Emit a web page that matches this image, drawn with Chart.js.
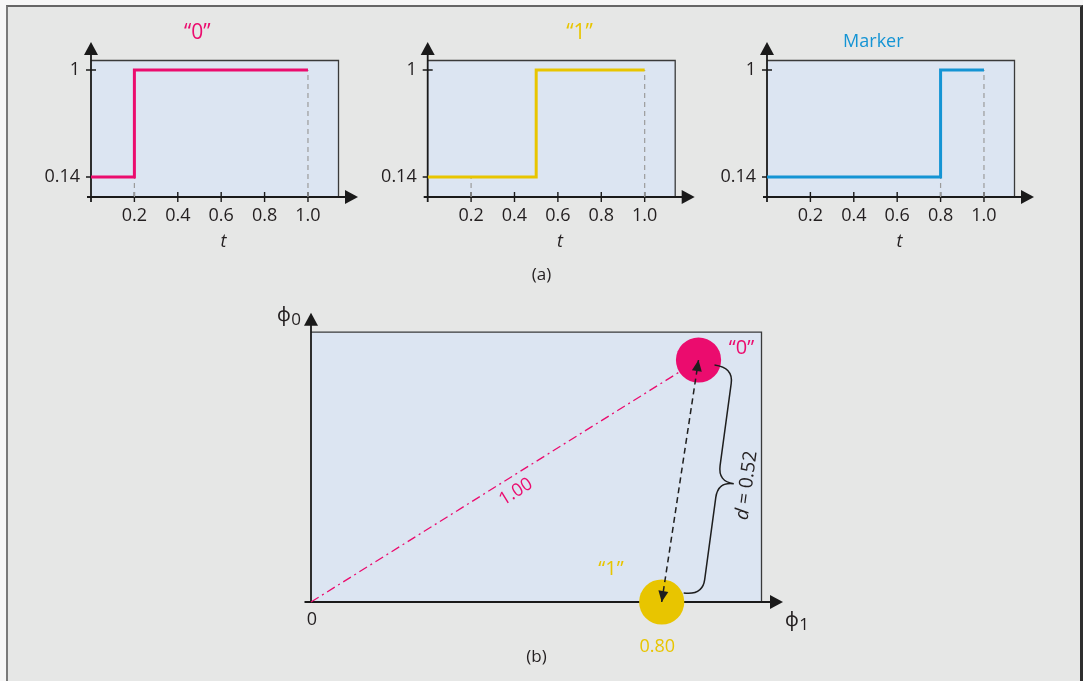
<!DOCTYPE html>
<html>
<head>
<meta charset="utf-8">
<title>Signal waveforms and signal space</title>
<script src="https://cdn.jsdelivr.net/npm/chart.js@4.4.1/dist/chart.umd.min.js"></script>
<style>
  html, body { margin: 0; padding: 0; background: #f7f7f7; }
  #page { position: relative; width: 1083px; height: 681px; overflow: hidden; }
  #frame { position: absolute; left: 6px; top: 5px; width: 1072px; height: 700px;
           background: #e6e7e6; border-top: 2px solid #666; border-left: 2px solid #7a7a7a; border-right: 3px solid #2e2e2e; }
  canvas { position: absolute; left: 0; top: 0; }
</style>
</head>
<body>
<div id="page">
  <div id="frame"></div>
  <canvas id="sig0" width="1083" height="681"></canvas>
  <canvas id="sig1" width="1083" height="681"></canvas>
  <canvas id="sig2" width="1083" height="681"></canvas>
  <canvas id="space" width="1083" height="681"></canvas>
</div>
<script>
// ---- data ----
const signalNames = ['“0”', '“1”', 'Marker'];
const signalColors = ['#eb0c6e', '#e8c500', '#1494d4'];
const stepTimes = [0.2, 0.5, 0.8];
const lowLevel = 0.14;
const highLevel = 1;
const endTime = 1.0;
const timeTicks = [0.2, 0.4, 0.6, 0.8, 1.0];
const levelTicks = [0.14, 1];
const guideTimes = [[0.2, 1.0], [0.2, 1.0], [0.8, 1.0]];

const pointNames = ['“0”', '“1”'];
const pointPhi1 = [0.884, 0.80];
const pointPhi0 = [0.552, 0];
const originLabel = '0';
const phi1Label = '0.80';
const normLabel = '1.00';
const distanceValue = '0.52';

// ---- layout / style ----
const W = 1083, H = 681;
const INK = '#231f20';
const AXIS = '#1a1a1a';
const PLOT_BG = '#dce5f2';
const FONT = '"Open Sans", "Noto Sans", sans-serif';
const topBoxLefts = [91, 427.7, 767];
const topBox = { width: 248, top: 60, bottom: 197 };
const titleAt = [0.49, 0.70, 0.49];
const titleY = [33, 33, 42];
const Y_AXIS_W = 60, X_AXIS_H = 50;
const bottomBox = { left: 311, top: 331.7, right: 762, bottom: 602 };

function arrowHead(ctx, x, y, angle, len, half) {
    ctx.save();
    ctx.translate(x, y);
    ctx.rotate(angle);
    ctx.beginPath();
    ctx.moveTo(0, 0);
    ctx.lineTo(-len, -half);
    ctx.lineTo(-len, half);
    ctx.closePath();
    ctx.fill();
    ctx.restore();
}

function plotBox() {
    return {
        id: 'plotBox',
        beforeDatasetsDraw(chart) {
            const {ctx, chartArea: a} = chart;
            ctx.save();
            ctx.fillStyle = PLOT_BG;
            ctx.fillRect(a.left, a.top, a.right - a.left, a.bottom - a.top);
            ctx.strokeStyle = '#3a3a3a';
            ctx.lineWidth = 1.3;
            ctx.beginPath();
            ctx.moveTo(a.left, a.top + 0.5);
            ctx.lineTo(a.right - 0.5, a.top + 0.5);
            ctx.lineTo(a.right - 0.5, a.bottom);
            ctx.stroke();
            ctx.restore();
        }
    };
}

function axesWithArrows(o) {
    return {
        id: 'axesWithArrows',
        beforeDatasetsDraw(chart) {
            const {ctx, chartArea: a} = chart;
            ctx.save();
            ctx.strokeStyle = AXIS;
            ctx.fillStyle = AXIS;
            ctx.lineWidth = 1.8;
            ctx.beginPath();
            ctx.moveTo(a.left - o.overX, a.bottom);
            ctx.lineTo(a.right + o.tipX - 6, a.bottom);
            ctx.moveTo(a.left, a.bottom + o.overY);
            ctx.lineTo(a.left, a.top - o.tipY + 6);
            ctx.stroke();
            arrowHead(ctx, a.right + o.tipX, a.bottom, 0, 13, 7);
            arrowHead(ctx, a.left, a.top - o.tipY, -Math.PI / 2, 13, 7);
            if (o.ticks) {
                const xs = chart.scales.x, ys = chart.scales.y;
                ctx.lineWidth = 1.4;
                ctx.beginPath();
                xs.ticks.forEach(t => {
                    const p = xs.getPixelForValue(t.value);
                    ctx.moveTo(p, a.bottom - 5);
                    ctx.lineTo(p, a.bottom + 5);
                });
                ys.ticks.forEach(t => {
                    const p = ys.getPixelForValue(t.value);
                    ctx.moveTo(a.left - 5, p);
                    ctx.lineTo(a.left + 5, p);
                });
                ctx.stroke();
            }
            ctx.restore();
        }
    };
}

function signalLabels(i) {
    return {
        id: 'signalLabels',
        afterDraw(chart) {
            const {ctx} = chart;
            const xs = chart.scales.x;
            ctx.save();
            ctx.textAlign = 'center';
            ctx.textBaseline = 'middle';
            ctx.fillStyle = signalColors[i];
            ctx.font = (i < 2 ? '21px ' : '18px ') + FONT;
            ctx.fillText(signalNames[i], xs.getPixelForValue(titleAt[i]), titleY[i]);
            ctx.fillStyle = INK;
            ctx.font = 'italic 18px ' + FONT;
            ctx.fillText('t', xs.getPixelForValue(0.61), 242);
            if (i === 1) {
                ctx.font = '17px ' + FONT;
                ctx.fillText('(a)', W / 2, 275);
            }
            ctx.restore();
        }
    };
}

function makeSignalChart(i) {
    const step = stepTimes[i];
    const tMax = 1.143, yMin = -0.02, yMax = 1.08;
    const levelAt = t => (t <= step ? lowLevel : highLevel);
    const datasets = guideTimes[i].map(t => ({
        data: [{x: t, y: yMin}, {x: t, y: levelAt(t)}],
        borderColor: '#9b9b9b',
        borderWidth: 1.2,
        borderDash: [5, 4],
        pointRadius: 0,
        order: 2
    }));
    datasets.push({
        data: [{x: 0, y: lowLevel}, {x: step, y: lowLevel}, {x: step, y: highLevel}, {x: endTime, y: highLevel}],
        borderColor: signalColors[i],
        borderWidth: 3,
        pointRadius: 0,
        order: 1
    });
    const left = topBoxLefts[i];
    const tickFont = {family: FONT, size: 18};
    return new Chart(document.getElementById('sig' + i), {
        type: 'line',
        data: {datasets: datasets},
        options: {
            responsive: false,
            animation: false,
            events: [],
            layout: {
                padding: {
                    left: left - Y_AXIS_W,
                    right: W - left - topBox.width,
                    top: topBox.top,
                    bottom: H - topBox.bottom - X_AXIS_H
                }
            },
            scales: {
                x: {
                    type: 'linear', min: 0, max: tMax,
                    afterBuildTicks: s => { s.ticks = timeTicks.map(v => ({value: v})); },
                    afterFit: s => { s.height = X_AXIS_H; },
                    grid: {display: false, drawTicks: false},
                    border: {display: false},
                    ticks: {padding: 8, color: INK, font: tickFont, maxRotation: 0, autoSkip: false,
                            callback: v => v.toFixed(1)}
                },
                y: {
                    type: 'linear', min: yMin, max: yMax,
                    afterBuildTicks: s => { s.ticks = levelTicks.map(v => ({value: v})); },
                    afterFit: s => { s.width = Y_AXIS_W; },
                    grid: {display: false, drawTicks: false},
                    border: {display: false},
                    ticks: {padding: 11, color: INK, font: tickFont, autoSkip: false,
                            callback: v => String(v)}
                }
            },
            plugins: {legend: {display: false}, tooltip: {enabled: false}}
        },
        plugins: [plotBox(), axesWithArrows({overX: 4, overY: 5, tipX: 19, tipY: 18, ticks: true}), signalLabels(i)]
    });
}

function drawBrace(ctx, A, B, depth, tip, r) {
    const L = Math.hypot(B.x - A.x, B.y - A.y);
    const u = {x: (B.x - A.x) / L, y: (B.y - A.y) / L};
    const n = {x: u.y, y: -u.x};
    const P = (s, h) => [A.x + s * u.x + h * n.x, A.y + s * u.y + h * n.y];
    const m = L / 2;
    ctx.beginPath();
    ctx.moveTo(...P(0, 0));
    ctx.quadraticCurveTo(...P(0, depth), ...P(r, depth));
    ctx.lineTo(...P(m - r, depth));
    ctx.quadraticCurveTo(...P(m, depth), ...P(m, tip));
    ctx.quadraticCurveTo(...P(m, depth), ...P(m + r, depth));
    ctx.lineTo(...P(L - r, depth));
    ctx.quadraticCurveTo(...P(L, depth), ...P(L, 0));
    ctx.stroke();
    return {P: P, u: u, m: m};
}

// phi with a subscript, left edge at x, baseline at y
function phiLabel(ctx, sub, x, y) {
    ctx.font = '19px ' + FONT;
    ctx.fillText('ϕ', x, y);
    const w = ctx.measureText('ϕ').width;
    ctx.font = '17px ' + FONT;
    ctx.fillText(sub, x + w + 0.5, y + 3.5);
}

const spaceAnnotations = {
    id: 'spaceAnnotations',
    afterDraw(chart) {
        const {ctx, chartArea: a} = chart;
        const xs = chart.scales.x, ys = chart.scales.y;
        const c0 = {x: xs.getPixelForValue(pointPhi1[0]), y: ys.getPixelForValue(pointPhi0[0])};
        const c1 = {x: xs.getPixelForValue(pointPhi1[1]), y: ys.getPixelForValue(pointPhi0[1])};
        const org = {x: xs.getPixelForValue(0), y: ys.getPixelForValue(0)};
        ctx.save();

        // arrowheads of the distance arrow
        const ang = Math.atan2(c0.y - c1.y, c0.x - c1.x);
        ctx.fillStyle = '#1e1e1e';
        arrowHead(ctx, c0.x, c0.y, ang, 11, 5);
        arrowHead(ctx, c1.x, c1.y, ang + Math.PI, 11, 5);

        // brace with d label
        ctx.strokeStyle = '#1e1e1e';
        ctx.lineWidth = 1.5;
        const br = drawBrace(ctx, {x: c0.x + 16, y: c0.y + 5}, {x: c1.x + 22, y: c1.y - 9}, 19, 35, 16);
        ctx.save();
        ctx.translate(...br.P(br.m, 48));
        ctx.rotate(Math.atan2(-br.u.y, -br.u.x));
        ctx.fillStyle = INK;
        ctx.textBaseline = 'middle';
        ctx.textAlign = 'left';
        ctx.font = 'italic 19px ' + FONT;
        const wd = ctx.measureText('d').width;
        ctx.font = '19px ' + FONT;
        const rest = ' = ' + distanceValue;
        const wr = ctx.measureText(rest).width;
        const x0 = -(wd + wr) / 2;
        ctx.font = 'italic 19px ' + FONT;
        ctx.fillText('d', x0, 0);
        ctx.font = '19px ' + FONT;
        ctx.fillText(rest, x0 + wd, 0);
        ctx.restore();

        // norm label along the dash-dot line
        const len = Math.hypot(c0.x - org.x, c0.y - org.y);
        const dir = {x: (c0.x - org.x) / len, y: (c0.y - org.y) / len};
        const s = 0.508 * len, k = 15.2;
        ctx.save();
        ctx.translate(org.x + s * dir.x - k * dir.y, org.y + s * dir.y + k * dir.x);
        ctx.rotate(Math.atan2(dir.y, dir.x));
        ctx.fillStyle = signalColors[0];
        ctx.font = '18px ' + FONT;
        ctx.textAlign = 'center';
        ctx.textBaseline = 'middle';
        ctx.fillText(normLabel, 0, 0);
        ctx.restore();

        ctx.textAlign = 'center';
        ctx.textBaseline = 'middle';
        ctx.font = '20px ' + FONT;
        ctx.fillStyle = signalColors[0];
        ctx.fillText(pointNames[0], c0.x + 43, c0.y - 12);
        ctx.fillStyle = signalColors[1];
        ctx.fillText(pointNames[1], c1.x - 50.7, c1.y - 32.4);
        ctx.font = '18px ' + FONT;
        ctx.fillText(phi1Label, c1.x - 4.5, org.y + 45);
        ctx.fillStyle = INK;
        ctx.fillText(originLabel, org.x + 1, org.y + 17.5);
        ctx.font = '17px ' + FONT;
        ctx.fillText('(b)', (a.left + a.right) / 2, 657);

        // axis names
        ctx.textAlign = 'left';
        ctx.textBaseline = 'alphabetic';
        const yTip = {x: a.left, y: a.top - 19};
        const xTip = {x: a.right + 21, y: a.bottom};
        phiLabel(ctx, '0', yTip.x - 34, yTip.y + 8.5);
        phiLabel(ctx, '1', xTip.x + 2, xTip.y + 24);
        ctx.restore();
    }
};

function makeSpaceChart() {
    const b = bottomBox;
    const p0 = {x: pointPhi1[0], y: pointPhi0[0]};
    const p1 = {x: pointPhi1[1], y: pointPhi0[1]};
    return new Chart(document.getElementById('space'), {
        type: 'scatter',
        data: {
            datasets: [
                {type: 'line', data: [{x: 0, y: 0}, p0], borderColor: signalColors[0], borderWidth: 1.3,
                 borderDash: [9, 4, 2, 4], pointRadius: 0, order: 3, clip: false},
                {data: [p0, p1], pointRadius: 22.6, pointBackgroundColor: [signalColors[0], signalColors[1]],
                 pointBorderWidth: 0, borderWidth: 0, order: 2, clip: false},
                {type: 'line', data: [p1, p0], borderColor: '#1e1e1e', borderWidth: 1.5,
                 borderDash: [6, 4], pointRadius: 0, order: 1, clip: false}
            ]
        },
        options: {
            responsive: false,
            animation: false,
            events: [],
            layout: {padding: {left: b.left, right: W - b.right, top: b.top, bottom: H - b.bottom}},
            scales: {
                x: {type: 'linear', display: false, min: 0, max: 1.0288},
                y: {type: 'linear', display: false, min: 0, max: 0.6166}
            },
            plugins: {legend: {display: false}, tooltip: {enabled: false}}
        },
        plugins: [plotBox(), axesWithArrows({overX: 6.5, overY: 0, tipX: 21, tipY: 19, ticks: false}), spaceAnnotations]
    });
}

[0, 1, 2].forEach(makeSignalChart);
makeSpaceChart();
</script>
</body>
</html>
